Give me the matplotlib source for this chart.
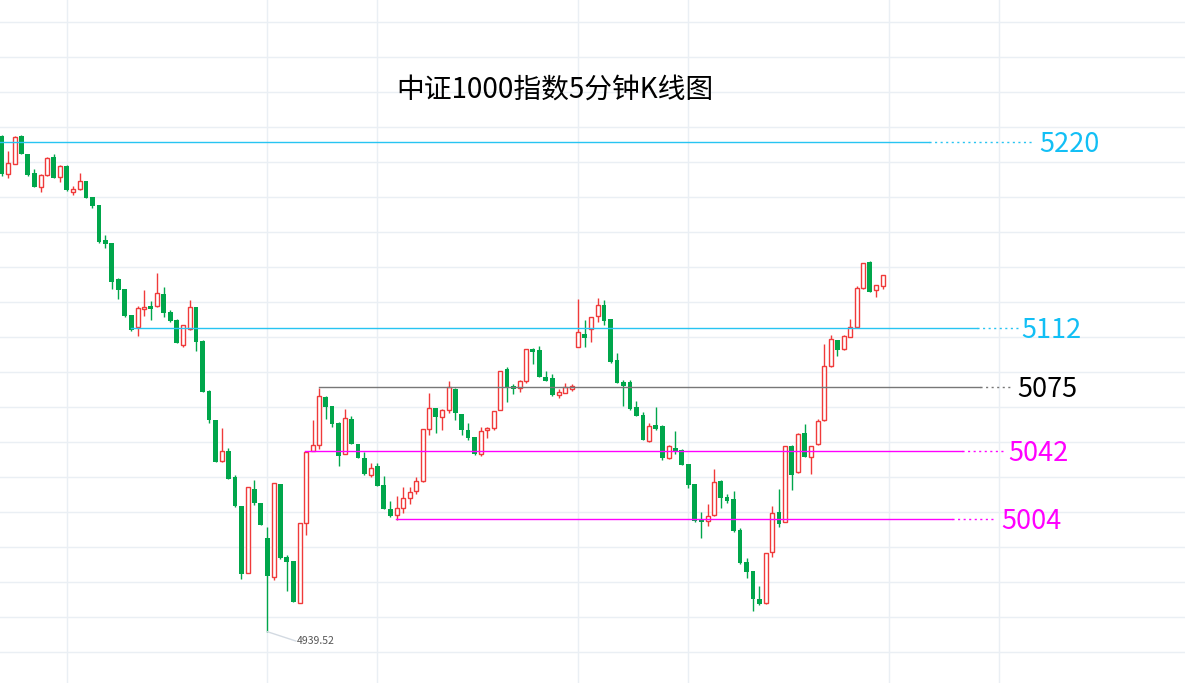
import matplotlib
matplotlib.use('Agg')
import matplotlib.pyplot as plt
import numpy as np

plt.rcParams['font.family'] = ['Noto Sans CJK SC', 'DejaVu Sans']  # 中文字体
plt.rcParams['axes.unicode_minus'] = False

title = '中证1000指数5分钟K线图'

# 5分钟K线数据 (开, 高, 低, 收)
opens = [5222.8, 5200.9, 5207.0, 5222.8, 5212.5, 5201.6, 5193.5, 5200.3, 5210.8, 5199.2,
         5205.6, 5191.0, 5192.5, 5197.1, 5187.9, 5183.4, 5163.4, 5161.6, 5141.1, 5135.4,
         5120.5, 5113.5, 5123.8, 5125.8, 5125.5, 5132.5, 5122.2, 5117.7, 5103.5, 5112.3,
         5125.1, 5105.8, 5077.1, 5060.5, 5036.9, 5043.0, 5027.9, 5011.4, 4973.3, 5021.1,
         5013.1, 4993.1, 4971.0, 5024.0, 4982.2, 4979.9, 4956.1, 5001.5, 5042.6, 5046.1,
         5073.7, 5068.5, 5059.0, 5041.0, 5061.1, 5046.8, 5038.6, 5028.9, 5034.2, 5023.2,
         5009.7, 5006.1, 5010.1, 5015.8, 5019.8, 5025.5, 5055.2, 5067.2, 5062.1, 5066.1,
         5078.4, 5063.9, 5054.8, 5050.8, 5040.9, 5054.6, 5055.8, 5066.1, 5089.8, 5079.9,
         5078.6, 5082.6, 5100.9, 5100.5, 5085.1, 5084.5, 5075.0, 5076.1, 5078.4, 5102.4,
         5109.8, 5112.7, 5119.8, 5126.2, 5118.2, 5094.8, 5082.2, 5082.2, 5067.9, 5063.4,
         5048.7, 5057.7, 5057.1, 5039.0, 5044.5, 5043.4, 5035.4, 5023.9, 5003.8, 5003.0,
         5006.4, 5025.8, 5016.5, 5015.4, 4997.7, 4979.4, 4974.2, 4958.1, 4955.8, 4984.9,
         5008.0, 5002.1, 5045.7, 5030.6, 5053.1, 5039.2, 5046.6, 5060.3, 5091.5, 5106.2,
         5101.3, 5108.1, 5113.5, 5135.8, 5150.8, 5134.6, 5137.1]
highs = [5223.5, 5214.2, 5222.5, 5223.4, 5212.5, 5203.9, 5201.2, 5210.5, 5212.5, 5206.4,
         5206.0, 5194.2, 5201.6, 5197.3, 5188.0, 5183.5, 5166.2, 5161.8, 5141.7, 5135.5,
         5120.6, 5125.5, 5134.8, 5128.5, 5144.7, 5136.5, 5123.2, 5118.4, 5115.0, 5129.1,
         5125.2, 5106.2, 5077.6, 5060.6, 5056.1, 5044.5, 5029.1, 5011.5, 5022.3, 5026.2,
         5013.2, 4999.4, 5024.7, 5024.1, 4983.5, 4980.0, 5001.6, 5042.8, 5060.5, 5078.8,
         5074.0, 5068.6, 5059.5, 5066.8, 5062.8, 5046.9, 5042.2, 5036.1, 5035.9, 5028.7,
         5014.4, 5016.9, 5022.2, 5022.0, 5027.8, 5055.5, 5076.0, 5067.3, 5066.8, 5083.0,
         5078.6, 5064.0, 5058.8, 5051.0, 5056.5, 5056.7, 5065.7, 5088.5, 5091.0, 5081.1,
         5083.5, 5101.0, 5101.8, 5102.8, 5088.5, 5086.8, 5078.2, 5081.5, 5081.1, 5129.5,
         5117.7, 5119.5, 5130.2, 5129.1, 5118.3, 5098.8, 5083.4, 5083.4, 5071.4, 5065.1,
         5058.8, 5067.9, 5057.7, 5046.4, 5054.2, 5044.0, 5035.5, 5024.0, 5008.0, 5012.5,
         5032.5, 5026.4, 5018.2, 5020.1, 4998.8, 4981.7, 4974.3, 4965.7, 4984.5, 5011.4,
         5021.1, 5045.7, 5046.0, 5052.8, 5058.4, 5045.7, 5061.1, 5103.9, 5109.1, 5106.4,
         5109.1, 5118.2, 5137.0, 5150.3, 5151.4, 5137.6, 5143.3]
lows = [5200.0, 5199.0, 5206.5, 5212.5, 5200.1, 5193.5, 5191.0, 5200.0, 5198.8, 5196.7,
        5191.4, 5189.2, 5191.9, 5187.2, 5181.8, 5161.8, 5158.9, 5135.4, 5129.8, 5119.5,
        5111.5, 5108.7, 5120.1, 5117.7, 5125.0, 5119.5, 5116.7, 5104.5, 5102.4, 5112.0,
        5099.9, 5076.5, 5058.8, 5036.5, 5036.5, 5026.8, 5010.8, 4969.8, 4973.0, 5011.9,
        5000.3, 4939.52, 4969.1, 4981.1, 4962.8, 4956.5, 4956.0, 4994.8, 5042.5, 5043.9,
        5061.3, 5056.7, 5034.4, 5040.8, 5046.8, 5038.8, 5029.3, 5028.1, 5022.8, 5009.6,
        5005.1, 5003.4, 5007.2, 5012.5, 5018.4, 5025.3, 5051.8, 5053.3, 5054.9, 5064.3,
        5060.7, 5052.1, 5049.3, 5040.7, 5039.8, 5050.0, 5054.6, 5066.0, 5071.0, 5075.5,
        5076.7, 5081.8, 5092.7, 5085.0, 5082.8, 5074.4, 5073.3, 5076.0, 5077.2, 5102.0,
        5102.4, 5105.3, 5116.7, 5115.0, 5093.1, 5081.6, 5068.7, 5066.4, 5062.8, 5049.1,
        5048.1, 5054.9, 5037.7, 5038.4, 5041.3, 5034.8, 5021.8, 5002.4, 4993.3, 5000.1,
        5005.8, 5010.4, 5013.3, 4996.7, 4978.2, 4970.4, 4951.5, 4955.0, 4955.6, 4982.4,
        4999.5, 5002.0, 5020.7, 5030.4, 5039.3, 5029.8, 5046.4, 5060.1, 5091.0, 5097.1,
        5100.7, 5108.0, 5113.3, 5135.4, 5133.5, 5130.9, 5135.5]
closes = [5201.2, 5207.2, 5222.0, 5212.7, 5200.7, 5193.8, 5200.5, 5210.2, 5199.0, 5205.6,
          5191.9, 5192.5, 5197.1, 5187.5, 5183.0, 5162.4, 5161.2, 5139.5, 5135.0, 5120.1,
          5112.1, 5124.3, 5125.1, 5124.1, 5132.9, 5121.8, 5117.3, 5104.7, 5114.6, 5124.9,
          5105.3, 5076.7, 5060.7, 5036.7, 5042.8, 5027.0, 5011.4, 4972.7, 5022.1, 5013.3,
          5000.5, 4971.5, 5024.5, 4981.7, 4979.5, 4956.7, 5001.5, 5042.2, 5046.1, 5074.1,
          5068.1, 5058.4, 5040.1, 5061.5, 5047.0, 5039.0, 5029.5, 5032.9, 5023.0, 5009.8,
          5005.8, 5010.1, 5015.8, 5019.5, 5025.5, 5055.2, 5067.2, 5062.4, 5066.1, 5079.2,
          5064.7, 5054.9, 5050.4, 5040.9, 5054.1, 5055.9, 5065.5, 5088.3, 5079.5, 5078.2,
          5082.8, 5100.9, 5099.5, 5085.1, 5083.0, 5075.0, 5076.3, 5079.2, 5079.9, 5110.6,
          5107.5, 5119.2, 5126.2, 5117.3, 5093.6, 5081.8, 5080.1, 5067.0, 5063.0, 5049.3,
          5057.1, 5055.5, 5039.0, 5045.7, 5042.2, 5035.0, 5023.5, 5003.0, 5002.1, 5005.8,
          5024.9, 5016.1, 5014.4, 4997.3, 4979.0, 4973.8, 4958.4, 4955.6, 4984.3, 5007.5,
          5001.3, 5045.5, 5029.3, 5052.5, 5039.5, 5045.5, 5059.8, 5091.4, 5106.6, 5100.7,
          5108.3, 5113.5, 5135.8, 5150.0, 5133.8, 5137.5, 5143.2]

# 画线位置 (压力/支撑) 和标注
level_values = [5219.4, 5113.1, 5079.4, 5042.8, 5004.0]
level_labels = ['5220', '5112', '5075', '5042', '5004']
level_colors = ['#27c4f2', '#27c4f2', '#777777', '#ff00ff', '#ff00ff']
label_colors = ['#12bff5', '#12bff5', '#000000', '#ff00ff', '#ff00ff']
low_label = '4939.52'
low_index = 41

# 布局 (单位: K线序号)
level_start = [-1.0, 20.0, 49.0, 46.8, 60.9]
level_solid_end = [143.2, 150.6, 151.1, 148.2, 146.7]
level_dot_end = [159.2, 156.9, 155.7, 154.9, 153.4]
label_x = [160.2, 157.4, 156.8, 155.4, 154.4]
vgrid = [10, 41, 58, 89, 106, 137, 154]

up_color = '#f03a3a'
down_color = '#00a64b'
grid_color = '#eaeff4'

fig = plt.figure(figsize=(11.85, 6.83), dpi=100)
ax = fig.add_axes([0, 0, 1, 1])
ax.set_xlim(-0.278, 182.71)
ax.set_ylim(4910.2, 5300.5)
ax.axis('off')

# 网格
for p in np.arange(5227.8 - 20 * 17, 5300, 20):
    ax.axhline(p, color=grid_color, lw=1.0, zorder=0)
for v in vgrid:
    ax.axvline(v, color=grid_color, lw=1.0, zorder=0)

# K线
n = len(opens)
x = np.arange(n)
o = np.array(opens)
c = np.array(closes)
h = np.array(highs)
l = np.array(lows)
up = c >= o
ax.vlines(x[up], l[up], h[up], color=up_color, lw=1.0, zorder=2)
ax.vlines(x[~up], l[~up], h[~up], color=down_color, lw=1.0, zorder=2)
body_h = np.maximum(np.abs(c - o), 0.6)
ax.bar(x[up], body_h[up], bottom=np.minimum(o, c)[up], width=0.62,
       facecolor='white', edgecolor=up_color, linewidth=1.0, zorder=3)
ax.bar(x[~up], body_h[~up], bottom=np.minimum(o, c)[~up], width=0.74,
       facecolor=down_color, edgecolor=down_color, linewidth=0, zorder=3)

# 水平线和标注
for i in range(len(level_values)):
    y = level_values[i]
    ax.plot([level_start[i], level_solid_end[i]], [y, y], color=level_colors[i], lw=1.0, zorder=4)
    ax.plot([level_solid_end[i], level_dot_end[i]], [y, y], color=level_colors[i], lw=1.0,
            linestyle=(0, (1.5, 2.5)), zorder=4)
    ax.text(label_x[i], y, level_labels[i], color=label_colors[i], fontsize=19.5,
            ha='left', va='center_baseline', zorder=5)

# 最低点标注
ax.plot([low_index, 45.4], [lows[low_index], 4934.2], color='#d3dae2', lw=1.0, zorder=4)
ax.text(45.6, 4934.2, low_label, color='#555555', fontsize=7.5, ha='left', va='center', zorder=5)

ax.text(85.4, 5249.0, title, fontsize=20, ha='center', va='center', color='black')

fig.savefig('out.png', dpi=100, facecolor='white')
